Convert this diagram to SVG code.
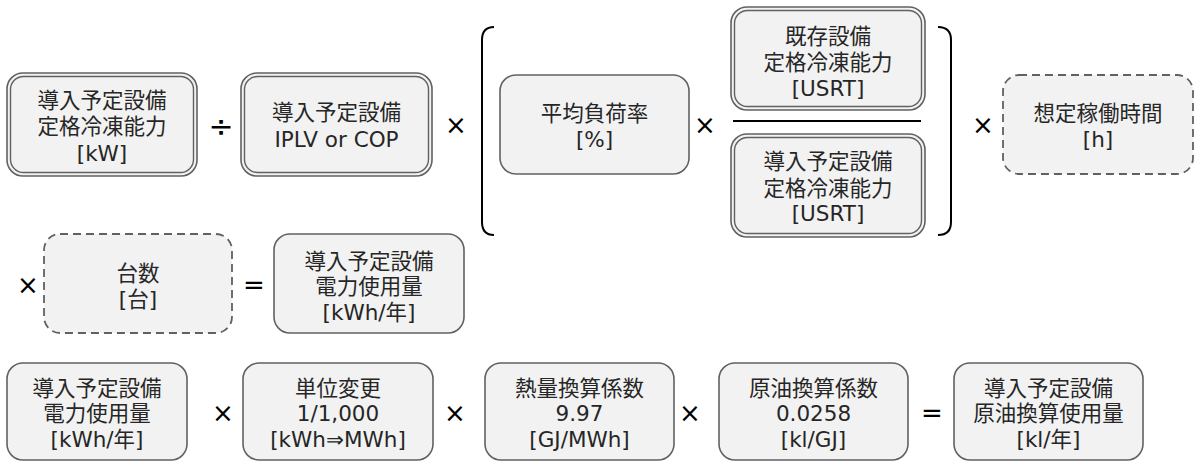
<svg xmlns="http://www.w3.org/2000/svg" width="1201" height="461" viewBox="0 0 1201 461">
<style>
.bx{fill:#f2f2f2;stroke:#616161;stroke-width:1.6}
.in{fill:none;stroke:#616161;stroke-width:1.4}
.ds{fill:#f2f2f2;stroke:#616161;stroke-width:1.8;stroke-dasharray:8 5}
.t{font-family:"DejaVu Sans","Noto Sans CJK JP",sans-serif;font-size:21.5px;fill:#262626;text-anchor:middle}
.op{font-family:"DejaVu Sans",sans-serif;font-size:26px;fill:#000;text-anchor:middle}
.br{fill:none;stroke:#000;stroke-width:2}
</style>
<rect width="1201" height="461" fill="#fff"/>
<g id="nodeA"><rect class="bx" x="7" y="73" width="190" height="103" rx="16"/><rect class="in" x="10.5" y="76.5" width="183" height="96" rx="13"/>
<text class="t" x="102" y="108">導入予定設備</text><text class="t" x="102" y="134">定格冷凍能力</text><text class="t" x="102" y="161">[kW]</text></g>
<g id="nodeB"><rect class="bx" x="241" y="73" width="191" height="103" rx="16"/><rect class="in" x="244.5" y="76.5" width="184" height="96" rx="13"/>
<text class="t" x="336.5" y="120">導入予定設備</text><text class="t" x="336.5" y="147">IPLV or COP</text></g>
<g id="nodeC"><rect class="bx" x="500" y="75" width="189" height="99" rx="16"/>
<text class="t" x="594.5" y="121">平均負荷率</text><text class="t" x="594.5" y="147">[%]</text></g>
<g id="nodeD"><rect class="bx" x="731" y="7" width="194" height="103" rx="16"/><rect class="in" x="734.5" y="10.5" width="187" height="96" rx="13"/>
<text class="t" x="828" y="44">既存設備</text><text class="t" x="828" y="70">定格冷凍能力</text><text class="t" x="828" y="96">[USRT]</text></g>
<g id="nodeE"><rect class="bx" x="731" y="134" width="194" height="103" rx="16"/><rect class="in" x="734.5" y="137.5" width="187" height="96" rx="13"/>
<text class="t" x="828" y="169">導入予定設備</text><text class="t" x="828" y="196">定格冷凍能力</text><text class="t" x="828" y="221">[USRT]</text></g>
<g id="nodeF"><rect class="ds" x="1003" y="75" width="190" height="99" rx="16"/>
<text class="t" x="1098" y="121">想定稼働時間</text><text class="t" x="1098" y="147">[h]</text></g>
<g id="nodeG"><rect class="ds" x="44" y="234" width="188" height="99" rx="16"/>
<text class="t" x="138" y="281">台数</text><text class="t" x="138" y="307">[台]</text></g>
<g id="nodeH"><rect class="bx" x="274" y="234" width="190" height="99" rx="16"/>
<text class="t" x="369" y="269">導入予定設備</text><text class="t" x="369" y="294">電力使用量</text><text class="t" x="369" y="320">[kWh/年]</text></g>
<g id="nodeI"><rect class="bx" x="7" y="363" width="180" height="97" rx="16"/>
<text class="t" x="97" y="396">導入予定設備</text><text class="t" x="97" y="421">電力使用量</text><text class="t" x="97" y="447">[kWh/年]</text></g>
<g id="nodeJ"><rect class="bx" x="243" y="363" width="190" height="97" rx="16"/>
<text class="t" x="338" y="396">単位変更</text><text class="t" x="338" y="421">1/1,000</text><text class="t" x="338" y="447">[kWh⇒MWh]</text></g>
<g id="nodeK"><rect class="bx" x="485" y="363" width="189" height="97" rx="16"/>
<text class="t" x="579.5" y="396">熱量換算係数</text><text class="t" x="579.5" y="421">9.97</text><text class="t" x="579.5" y="447">[GJ/MWh]</text></g>
<g id="nodeL"><rect class="bx" x="719" y="363" width="189" height="97" rx="16"/>
<text class="t" x="813.5" y="396">原油換算係数</text><text class="t" x="813.5" y="421">0.0258</text><text class="t" x="813.5" y="447">[kl/GJ]</text></g>
<g id="nodeM"><rect class="bx" x="954" y="363" width="189" height="97" rx="16"/>
<text class="t" x="1048.5" y="396">導入予定設備</text><text class="t" x="1048.5" y="421">原油換算使用量</text><text class="t" x="1048.5" y="447">[kl/年]</text></g>
<g id="connectors">
<path class="br" d="M494,27 Q482,27 482,40 L482,222 Q482,235 494,235"/>
<path class="br" d="M938,27 Q951,27 951,40 L951,222 Q951,235 938,235"/>
<line x1="733" y1="121" x2="921" y2="121" stroke="#000" stroke-width="2"/>
<text class="op" x="221" y="137" style="font-size:30px">÷</text>
<text class="op" x="456" y="134">×</text>
<text class="op" x="705" y="134">×</text>
<text class="op" x="983" y="134">×</text>
<text class="op" x="28" y="294">×</text>
<text class="op" x="254" y="294">=</text>
<text class="op" x="223" y="422">×</text>
<text class="op" x="455" y="422">×</text>
<text class="op" x="690" y="422">×</text>
<text class="op" x="932" y="422">=</text>
</g>
</svg>
